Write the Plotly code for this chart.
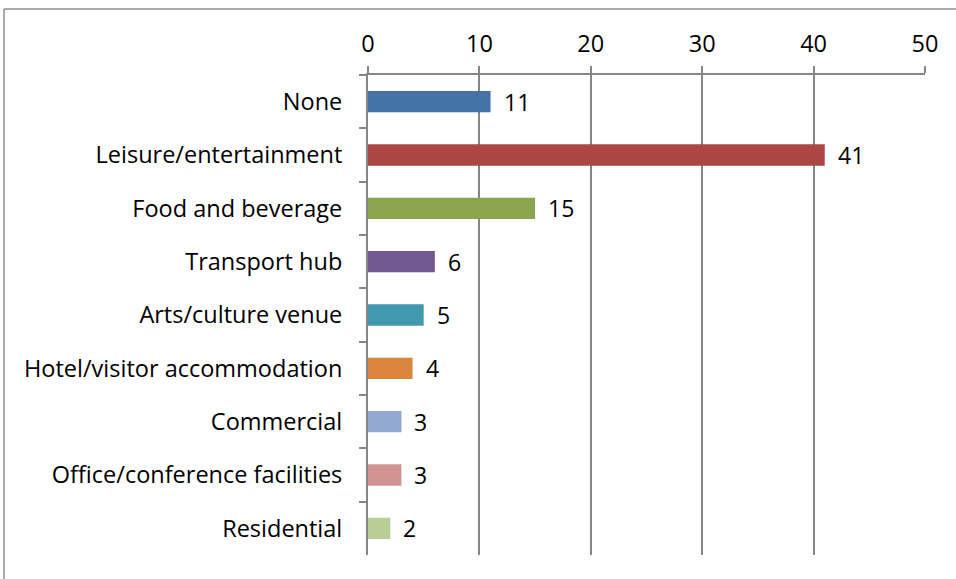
import plotly.graph_objects as go

categories = ["None", "Leisure/entertainment", "Food and beverage", "Transport hub",
              "Arts/culture venue", "Hotel/visitor accommodation", "Commercial",
              "Office/conference facilities", "Residential"]
values = [11, 41, 15, 6, 5, 4, 3, 3, 2]
colors = ["#4572A7", "#AA4643", "#89A54E", "#71588F", "#4198AF",
          "#DB843D", "#93A9CF", "#D19392", "#B9CD96"]
x_ticks = [0, 10, 20, 30, 40, 50]

FONT = "Open Sans"
FS = 23.5
AXIS_COLOR = "#868686"

fig = go.Figure()
fig.add_trace(go.Bar(
    x=values, y=categories, orientation="h",
    marker=dict(color=colors, line=dict(width=0)),
    width=0.4, showlegend=False, hoverinfo="x+y",
))

for v, c in zip(values, categories):
    fig.add_annotation(x=v, y=c, text=str(v), showarrow=False,
                       xanchor="left", yanchor="middle", xshift=11,
                       font=dict(family=FONT, size=FS - 0.5, color="#000000"))

W, H = 956, 579
L, R, T, B = 368, 925, 75, 555

fig.update_layout(
    width=W, height=H, autosize=False,
    margin=dict(l=L, r=W - R, t=T, b=H - B, pad=0),
    paper_bgcolor="white", plot_bgcolor="white",
    font=dict(family=FONT, size=FS, color="#000000"),
    xaxis=dict(
        side="top", range=[0, 50], tickvals=x_ticks,
        showline=True, linecolor=AXIS_COLOR, linewidth=2,
        ticks="outside", ticklen=7, tickwidth=2, tickcolor=AXIS_COLOR,
        showgrid=True, gridcolor=AXIS_COLOR, gridwidth=2,
        zeroline=False, ticklabelstandoff=5,
        tickfont=dict(family=FONT, size=FS),
    ),
    yaxis=dict(
        categoryorder="array", categoryarray=categories, autorange="reversed",
        showline=True, linecolor=AXIS_COLOR, linewidth=2,
        ticks="outside", ticklen=7, tickwidth=2, tickcolor=AXIS_COLOR,
        tickson="boundaries", showgrid=False, zeroline=False,
        ticklabelstandoff=19,
        tickfont=dict(family=FONT, size=FS),
    ),
)

def px_x(px):
    return (px - L) / (R - L)

def px_y(py):
    return (B - py) / (B - T)

border = dict(color="#8c8c8c", width=1.5)
fig.add_shape(type="line", xref="paper", yref="paper",
              x0=px_x(4), x1=px_x(W + 5), y0=px_y(9), y1=px_y(9), line=border)
fig.add_shape(type="line", xref="paper", yref="paper",
              x0=px_x(4), x1=px_x(4), y0=px_y(9), y1=px_y(H + 5), line=border)

fig.write_html("out.html",
               config={"displayModeBar": False},
               post_script="document.body.style.margin='0';document.body.style.overflow='hidden';")
